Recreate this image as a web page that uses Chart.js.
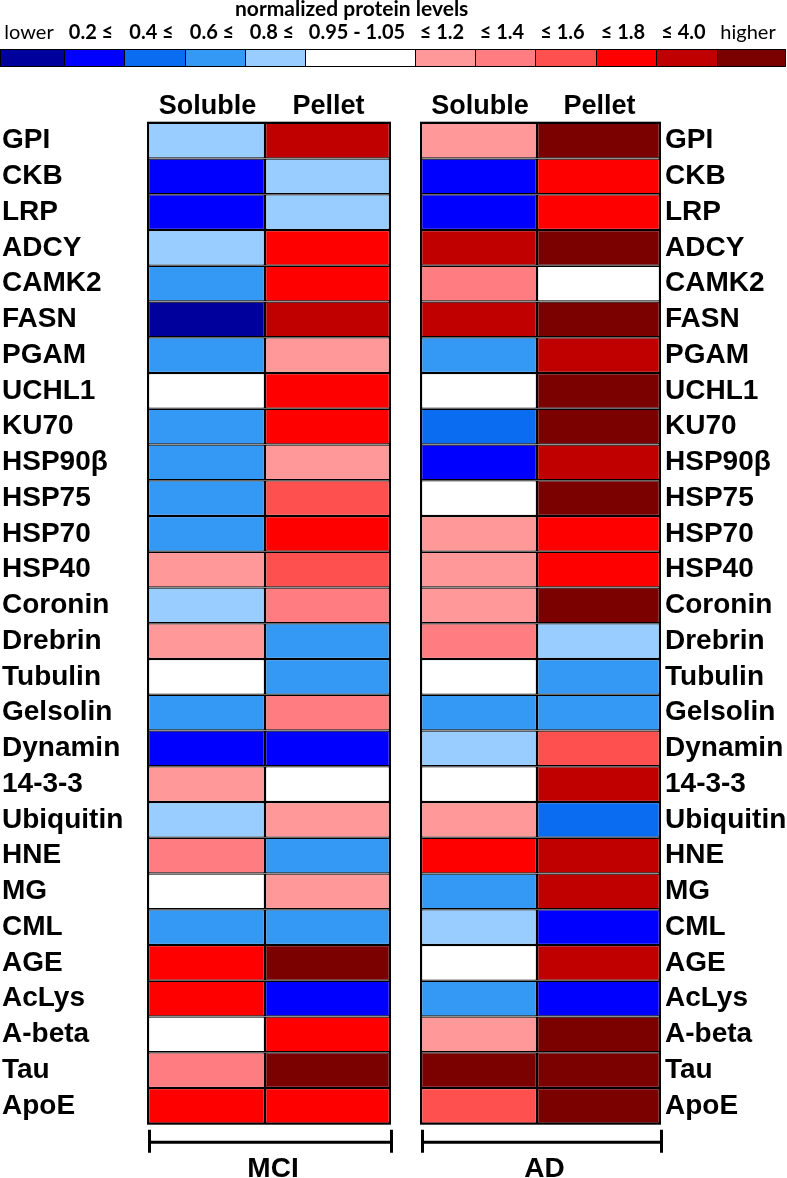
<!DOCTYPE html>
<html>
<head>
<meta charset="utf-8">
<script src="https://cdn.jsdelivr.net/npm/chart.js@4.4.0/dist/chart.umd.min.js"></script>
<style>
  html, body { margin: 0; padding: 0; background: #fff; }
  #wrap { position: relative; width: 787px; height: 1178px; overflow: hidden; }
  #heat { position: absolute; left: 0; top: 0; }
  #legTitle { position: absolute; left: 235px; top: -3px; font: bold 21px Lato; line-height: 21px; white-space: nowrap; }
  .lab { position: absolute; top: 21px; font: bold 20px Lato; line-height: 20px; white-space: nowrap; transform: translateX(-50%); }
  .lab.plain { font-weight: normal; }
  .cell { position: absolute; top: 49px; height: 18px; box-sizing: border-box; border: 1px solid #000; }
</style>
</head>
<body>
<div id="wrap">
  <canvas id="heat" width="787" height="1178"></canvas>
  <div id="legTitle">normalized protein levels</div>
  <div id="legend"></div>
</div>
<script>
// row names (top to bottom)
const rows = ['GPI', 'CKB', 'LRP', 'ADCY', 'CAMK2', 'FASN', 'PGAM', 'UCHL1', 'KU70', 'HSP90β',
  'HSP75', 'HSP70', 'HSP40', 'Coronin', 'Drebrin', 'Tubulin', 'Gelsolin', 'Dynamin', '14-3-3',
  'Ubiquitin', 'HNE', 'MG', 'CML', 'AGE', 'AcLys', 'A-beta', 'Tau', 'ApoE'];

// legend bins, index 0 = lower ... 11 = higher
const binLabels = ['lower', '0.2 ≤', '0.4 ≤', '0.6 ≤', '0.8 ≤', '0.95 - 1.05',
  '≤ 1.2', '≤ 1.4', '≤ 1.6', '≤ 1.8', '≤ 4.0', 'higher'];

// bin index read for each cell
const mciSoluble = [4, 1, 1, 4, 3, 0, 3, 5, 3, 3, 3, 3, 6, 4, 6, 5, 3, 1, 6, 4, 7, 5, 3, 9, 9, 5, 7, 9];
const mciPellet  = [10, 4, 4, 9, 9, 10, 6, 9, 9, 6, 8, 9, 8, 7, 3, 3, 7, 1, 5, 6, 3, 6, 3, 11, 1, 9, 11, 9];
const adSoluble  = [6, 1, 1, 10, 7, 10, 3, 5, 2, 1, 5, 6, 6, 6, 7, 5, 3, 4, 5, 6, 9, 3, 4, 5, 3, 6, 11, 8];
const adPellet   = [11, 9, 9, 11, 5, 11, 10, 11, 11, 10, 11, 9, 9, 11, 4, 3, 3, 8, 10, 2, 10, 10, 1, 10, 1, 11, 11, 11];

const columns = ['Soluble', 'Pellet'];
const groups = ['MCI', 'AD'];

// styles / layout
const binColors = ['#00009c', '#0000ff', '#0a6cf0', '#3399f5', '#99ccff', '#ffffff',
  '#ff9999', '#ff7c80', '#ff5050', '#ff0000', '#c00000', '#7b0000'];
const legendEdges = [0, 64, 124, 185, 245, 305, 415, 475, 535, 596, 656, 717, 785];
const colW = [117, 125, 31, 116, 123]; // MCI sol, MCI pel, gap, AD sol, AD pel

// legend
const legend = document.getElementById('legend');
binLabels.forEach((t, i) => {
  const l = legendEdges[i], r = legendEdges[i + 1];
  const c = document.createElement('div');
  c.className = 'cell';
  c.style.left = l + 'px';
  c.style.width = (r - l + 1) + 'px';
  c.style.background = binColors[i];
  legend.appendChild(c);
  const lab = document.createElement('div');
  lab.className = 'lab' + (i === 0 || i === 11 ? ' plain' : '');
  lab.style.left = ((l + r) / 2 - 3) + 'px';
  lab.textContent = t;
  legend.appendChild(lab);
});

const series = [mciSoluble, mciPellet, null, adSoluble, adPellet];
const datasets = series.map((s, i) => ({
  data: rows.map(() => colW[i]),
  backgroundColor: s ? s.map(b => binColors[b]) : 'rgba(0,0,0,0)',
  borderColor: '#000',
  borderWidth: s ? 1.3 : 0,
  borderSkipped: false,
  barPercentage: 1,
  categoryPercentage: 1,
  inflateAmount: 0
}));

const decor = {
  id: 'decor',
  afterDraw(chart) {
    const ctx = chart.ctx, xs = chart.scales.x, a = chart.chartArea;
    const edges = [0];
    colW.forEach(w => edges.push(edges[edges.length - 1] + w));
    const px = edges.map(v => xs.getPixelForValue(v));
    ctx.save();
    ctx.fillStyle = '#000';
    ctx.strokeStyle = '#000';
    ctx.textAlign = 'center';
    ctx.textBaseline = 'alphabetic';
    [[0, 1], [3, 4]].forEach((pair, g) => {
      ctx.font = 'bold 27px "Liberation Sans"';
      pair.forEach((c, k) => ctx.fillText(columns[k], (px[c] + px[c + 1]) / 2 + 1, a.top - 9));
      const l = px[pair[0]], r = px[pair[1] + 1];
      ctx.lineWidth = 2;
      ctx.strokeRect(l, a.top, r - l, a.bottom - a.top);
      // bracket
      ctx.lineWidth = 3;
      ctx.beginPath();
      ctx.moveTo(l + 1.5, a.bottom + 6); ctx.lineTo(l + 1.5, a.bottom + 29);
      ctx.moveTo(r + 1.5, a.bottom + 6); ctx.lineTo(r + 1.5, a.bottom + 29);
      ctx.moveTo(l + 1.5, a.bottom + 18.5); ctx.lineTo(r + 1.5, a.bottom + 18.5);
      ctx.stroke();
      ctx.font = 'bold 28px "Liberation Sans"';
      ctx.fillText(groups[g], (l + r) / 2 + 4, a.bottom + 53);
    });
    ctx.restore();
  }
};

const tickFont = { family: '"Liberation Sans"', weight: 'bold', size: 28 };

new Chart(document.getElementById('heat'), {
  type: 'bar',
  data: { labels: rows, datasets },
  options: {
    indexAxis: 'y',
    responsive: false,
    devicePixelRatio: 1,
    animation: false,
    layout: { padding: { top: 122.7, bottom: 54.3, left: 2, right: 0 } },
    plugins: { legend: { display: false }, tooltip: { enabled: false } },
    scales: {
      x: { stacked: true, min: 0, max: 512, display: false },
      y: {
        stacked: true,
        position: 'left',
        grid: { display: false, drawTicks: false },
        border: { display: false },
        ticks: { autoSkip: false, crossAlign: 'far', padding: 0, color: '#000', font: tickFont },
        afterFit: s => { s.width = 146; }
      },
      y2: {
        type: 'category',
        labels: rows,
        position: 'right',
        offset: true,
        grid: { display: false, drawTicks: false },
        border: { display: false },
        ticks: { autoSkip: false, crossAlign: 'near', padding: 5, color: '#000', font: tickFont },
        afterFit: s => { s.width = 127; }
      }
    }
  },
  plugins: [decor]
});
</script>
</body>
</html>
